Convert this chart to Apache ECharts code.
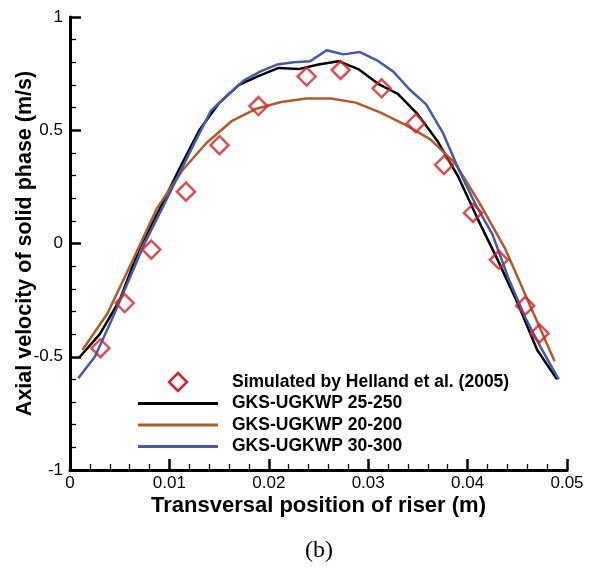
<!DOCTYPE html>
<html>
<head>
<meta charset="utf-8">
<script src="https://cdn.jsdelivr.net/npm/echarts@6/dist/echarts.min.js"></script>
<style>html,body{margin:0;padding:0;background:#fff}#c{width:594px;height:573px}</style>
</head>
<body>
<div id="c"></div>
<script>
// Tick labels
var xTickLabels = ['0', '0.01', '0.02', '0.03', '0.04', '0.05'];
var yTickLabels = ['-1', '-0.5', '0', '0.5', '1'];

// Simulated by Helland et al. (2005)
var hellandX = [0.00306, 0.0055, 0.00818, 0.01167, 0.01504, 0.01896, 0.02381, 0.02723, 0.03135, 0.03479, 0.03763, 0.04054, 0.04315, 0.0458, 0.04724];
var hellandY = [-0.462, -0.263, -0.027, 0.229, 0.434, 0.607, 0.737, 0.766, 0.685, 0.531, 0.347, 0.135, -0.072, -0.275, -0.397];

// GKS-UGKWP 25-250 (cell centres)
var g25X = [0.001, 0.003, 0.005, 0.007, 0.009, 0.011, 0.013, 0.015, 0.017, 0.019, 0.021, 0.023, 0.025, 0.027, 0.029, 0.031, 0.033, 0.035, 0.037, 0.039, 0.041, 0.043, 0.045, 0.047, 0.049];
var g25Y = [-0.50, -0.40, -0.25, -0.02, 0.15, 0.33, 0.50, 0.62, 0.70, 0.74, 0.775, 0.77, 0.79, 0.805, 0.77, 0.705, 0.66, 0.57, 0.45, 0.30, 0.11, -0.07, -0.26, -0.47, -0.60];

// GKS-UGKWP 20-200
var g20X = [0.00125, 0.00375, 0.00625, 0.00875, 0.01125, 0.01375, 0.01625, 0.01875, 0.02125, 0.02375, 0.02625, 0.02875, 0.03125, 0.03375, 0.03625, 0.03875, 0.04125, 0.04375, 0.04625, 0.04875];
var g20Y = [-0.47, -0.31, -0.08, 0.155, 0.32, 0.445, 0.54, 0.595, 0.625, 0.64, 0.64, 0.622, 0.578, 0.524, 0.46, 0.355, 0.175, -0.02, -0.27, -0.52];

// GKS-UGKWP 30-300
var g30X = [0.000833, 0.0025, 0.004167, 0.005833, 0.0075, 0.009167, 0.010833, 0.0125, 0.014167, 0.015833, 0.0175, 0.019167, 0.020833, 0.0225, 0.024167, 0.025833, 0.0275, 0.029167, 0.030833, 0.0325, 0.034167, 0.035833, 0.0375, 0.039167, 0.040833, 0.0425, 0.044167, 0.045833, 0.0475, 0.049167];
var g30Y = [-0.595, -0.50, -0.34, -0.17, 0.0, 0.146, 0.294, 0.442, 0.585, 0.655, 0.72, 0.76, 0.79, 0.80, 0.805, 0.853, 0.835, 0.845, 0.81, 0.76, 0.68, 0.614, 0.49, 0.32, 0.17, 0.04, -0.16, -0.33, -0.47, -0.60];

var seriesNames = ['Simulated by Helland et al. (2005)', 'GKS-UGKWP 25-250', 'GKS-UGKWP 20-200', 'GKS-UGKWP 30-300'];
var colRed = '#d8202a', colBlack = '#000000', colBrown = '#b35b27', colBlue = '#4459ad';

function pairs(xs, ys) { return xs.map(function (x, i) { return [x, ys[i]]; }); }

var chart = echarts.init(document.getElementById('c'), null, { renderer: 'canvas' });
var sans = 'Liberation Sans, Arial, Helvetica, sans-serif';

var legY = [382, 403.5, 425, 446.5];
var legendGraphics = [];
legendGraphics.push({
  type: 'polygon', shape: { points: [[178, legY[0] - 9], [187, legY[0]], [178, legY[0] + 9], [169, legY[0]]] },
  style: { fill: 'none', stroke: colRed, lineWidth: 2.5 }
});
[colBlack, colBrown, colBlue].forEach(function (c, i) {
  legendGraphics.push({
    type: 'line', shape: { x1: 138, y1: legY[i + 1], x2: 218, y2: legY[i + 1] },
    style: { stroke: c, lineWidth: 3 }
  });
});
seriesNames.forEach(function (n, i) {
  legendGraphics.push({
    type: 'text', x: 232, y: legY[i],
    style: { text: n, font: 'bold 17.5px ' + sans, fill: '#000', textVerticalAlign: 'middle', textAlign: 'left' }
  });
});
legendGraphics.push({
  type: 'text', x: 319, y: 551,
  style: { text: '(b)', font: '24px Liberation Serif, Times New Roman, serif', fill: '#000', textAlign: 'center', textVerticalAlign: 'middle' }
});

var option = {
  animation: false,
  backgroundColor: '#fff',
  grid: { left: 70, right: 27, top: 17, bottom: 103, containLabel: false, outerBoundsMode: 'none' },
  xAxis: {
    type: 'value', min: 0, max: 0.05, interval: 0.01,
    name: 'Transversal position of riser (m)', nameLocation: 'middle', nameGap: 25, nameMoveOverlap: false,
    nameTextStyle: { fontFamily: sans, fontWeight: 'bold', fontSize: 22, color: '#000' },
    axisLine: { show: true, onZero: false, lineStyle: { color: '#000', width: 3 } },
    axisTick: { show: true, inside: true, length: 11, lineStyle: { color: '#000', width: 2.5 } },
    minorTick: { show: true, splitNumber: 5, length: 6, lineStyle: { color: '#000', width: 1.3 } },
    splitLine: { show: false },
    axisLabel: {
      margin: 5, fontFamily: sans, fontSize: 17, color: '#000',
      formatter: function (v, idx) { return xTickLabels[idx]; }
    }
  },
  yAxis: {
    type: 'value', min: -1, max: 1, interval: 0.5,
    name: 'Axial velocity of solid phase (m/s)', nameLocation: 'middle', nameGap: 34, nameMoveOverlap: false,
    nameTextStyle: { fontFamily: sans, fontWeight: 'bold', fontSize: 21.5, color: '#000' },
    axisLine: { show: true, onZero: false, lineStyle: { color: '#000', width: 3 } },
    axisTick: { show: true, inside: true, length: 11, lineStyle: { color: '#000', width: 2.5 } },
    minorTick: { show: true, splitNumber: 5, length: 6, lineStyle: { color: '#000', width: 1.3 } },
    splitLine: { show: false },
    axisLabel: {
      margin: 7, fontFamily: sans, fontSize: 17, color: '#000',
      formatter: function (v, idx) { return yTickLabels[idx]; }
    }
  },
  series: [
    {
      name: seriesNames[0], type: 'scatter', data: pairs(hellandX, hellandY),
      symbol: 'diamond', symbolSize: 18, z: 3,
      itemStyle: { color: 'rgba(0,0,0,0)', borderColor: colRed, borderWidth: 2.5 }
    },
    {
      name: seriesNames[1], type: 'line', data: pairs(g25X, g25Y), showSymbol: false, symbol: 'none', z: 2,
      lineStyle: { color: colBlack, width: 2.5 }
    },
    {
      name: seriesNames[2], type: 'line', data: pairs(g20X, g20Y), showSymbol: false, symbol: 'none', z: 2,
      lineStyle: { color: colBrown, width: 2.5 }
    },
    {
      name: seriesNames[3], type: 'line', data: pairs(g30X, g30Y), showSymbol: false, symbol: 'none', z: 2,
      lineStyle: { color: colBlue, width: 2.5 }
    }
  ],
  graphic: legendGraphics
};
chart.setOption(option);
</script>
</body>
</html>
